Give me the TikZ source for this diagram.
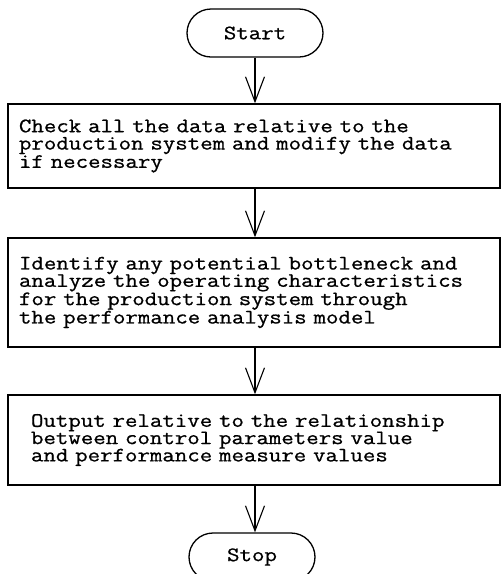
\documentclass[tikz,border=0pt]{standalone}
\usepackage{fontspec}
\usetikzlibrary{arrows.meta}
\newfontfamily\chartfont{Latin Modern Mono}[FakeStretch=1.18, FakeBold=0.8]

\begin{document}
\begin{tikzpicture}[x=1pt, y=-1pt,
        font=\chartfont\fontsize{20.5pt}{17.3pt}\selectfont,
        term/.style={draw=black, line width=1.3pt, rounded corners=24pt,
                     minimum width=#1, minimum height=48pt, inner sep=0pt},
        box/.style={draw=black, line width=1.4pt, minimum width=492pt,
                    align=left, inner ysep=2pt},
        arr/.style={-{Straight Barb[length=25pt, width=19pt, line width=1.1pt]},
                    line width=1.1pt, draw=black}
    ]
    \useasboundingbox (0,0) rectangle (501,574);
    \node[term=136pt] (start) at (255,33) {Start};
    \node[box, text width=470pt, inner xsep=11pt, minimum height=84pt] (b1) at (254,146)
        {Check all the data relative to the\\
         production system and modify the data\\
         if necessary};
    \node[box, text width=470pt, inner xsep=11pt, minimum height=109pt] (b2) at (254,292.5)
        {Identify any potential bottleneck and\\
         analyze the operating characteristics\\
         for the production system through\\
         the performance analysis model};
    \node[box, text width=446pt, inner xsep=23pt, minimum height=90pt] (b3) at (254,440)
        {Output relative to the relationship\\
         between control parameters value\\
         and performance measure values};
    \node[term=126pt] (stop) at (252,557) {Stop};
    \draw[arr] (start.south) -- (b1.north -| start.south);
    \draw[arr] (b1.south -| start.south) -- (b2.north -| start.south);
    \draw[arr] (b2.south -| start.south) -- (b3.north -| start.south);
    \draw[arr] (b3.south -| start.south) -- (stop.north -| start.south);
\end{tikzpicture}
\end{document}
